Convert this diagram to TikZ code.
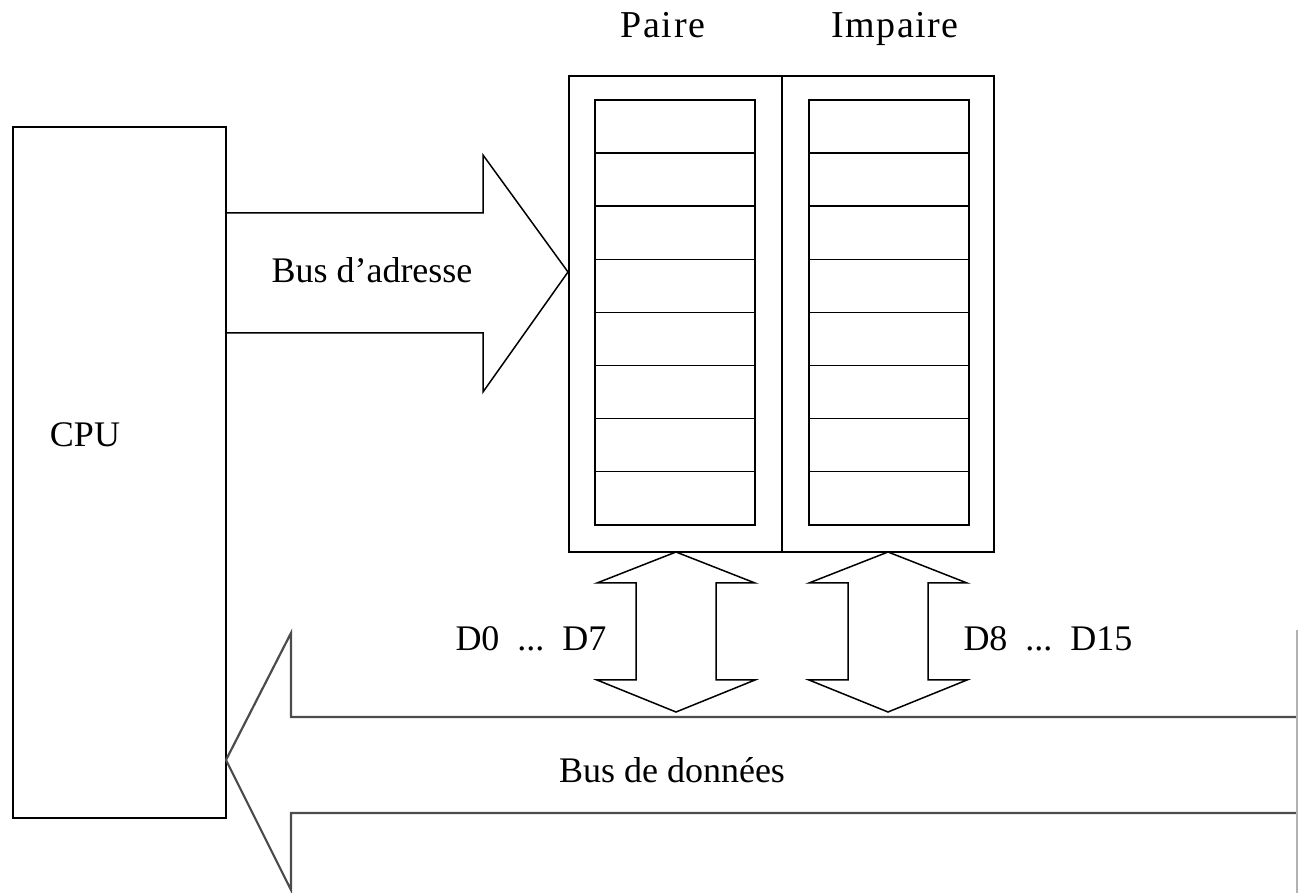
\documentclass[tikz,border=0pt]{standalone}
\usepackage{fontspec}
\setmainfont{Liberation Serif}
\begin{document}
\begin{tikzpicture}[x=0.5pt,y=-0.5pt,line width=0.75pt,
  lbl/.style={font=\fontsize{18}{21}\selectfont, inner sep=0pt},
  spaced/.style={font=\fontsize{19}{22}\selectfont\addfontfeature{LetterSpace=4}, inner sep=0pt, anchor=base},
  bus/.style={draw=black!70, line width=1.1pt}]
\useasboundingbox (0,0) rectangle (1298,893);

%CPU
\draw (13,127) rectangle (226,818);
\node[lbl] (cpu) at (85,435) {CPU};

%Memory banks
\draw (569,76) rectangle (994,552);
\draw (782,76) -- (782,552);
\foreach \x in {595,809}
	\foreach \i in {0,...,7}
		\draw (\x,100+\i*53.1) rectangle ++(160,53.1);
\node[spaced] (paire) at (663,38) {Paire};
\node[spaced] (impaire) at (895,38) {Impaire};

%Address bus
\draw (226,213) -- (483,213) -- (483,155) -- (568,272) -- (483,392) -- (483,333) -- (226,333);
\node[lbl] (adr) at (372,270) {Bus d'adresse};

%Byte lanes
\foreach \c in {676,888}
	\draw (\c,552) -- (\c+79,583) -- (\c+40,583) -- (\c+40,680) -- (\c+79,680) -- (\c,712)
		-- (\c-79,680) -- (\c-40,680) -- (\c-40,583) -- (\c-79,583) -- cycle;
\node[lbl] (low) at (531,639) {D0\ \ ...\ \ D7};
\node[lbl] (high) at (1048,639) {D8\ \ ...\ \ D15};

%Data bus
\draw[bus] (1298,717) -- (291,717) -- (291,633) -- (226,760) -- (291,890) -- (291,813) -- (1298,813);
\draw[gray!60, line width=0.6pt] (1297,630) -- (1297,893);
\node[lbl] (data) at (672,770) {Bus de données};

\end{tikzpicture}
\end{document}
